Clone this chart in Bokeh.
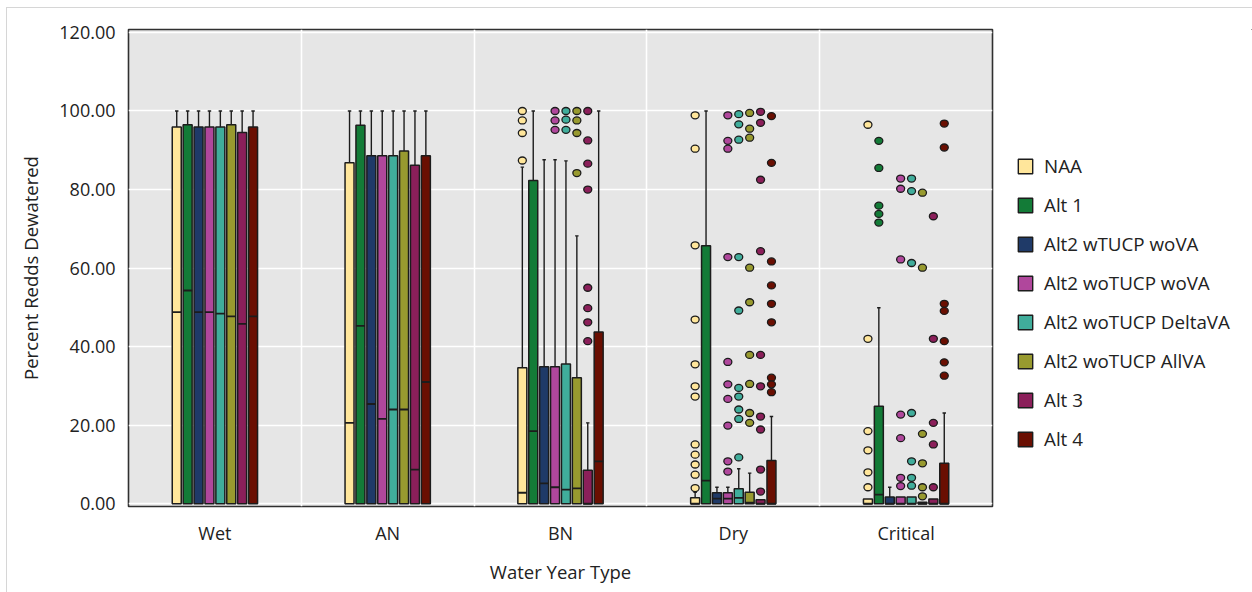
from bokeh.plotting import figure
from bokeh.models import (ColumnDataSource, FactorRange, FixedTicker, NumeralTickFormatter,
                          Legend, LegendItem, Range1d)
from bokeh.transform import dodge
from bokeh.layouts import row, column
from bokeh.embed import file_html
from bokeh.resources import INLINE

# ---- data -------------------------------------------------------------
categories = ["Wet", "AN", "BN", "Dry", "Critical"]
series = ["NAA", "Alt 1", "Alt2 wTUCP woVA", "Alt2 woTUCP woVA",
          "Alt2 woTUCP DeltaVA", "Alt2 woTUCP AllVA", "Alt 3", "Alt 4"]
colors = ["#FFE69B", "#137B37", "#1F3A68", "#B0479C",
          "#40AD9B", "#989A2F", "#8B1F5A", "#6A0F02"]

q1 = {s: [0.0, 0.0, 0.0, 0.0, 0.0] for s in series}
q3 = {
    "NAA":                 [95.9, 86.8, 34.6, 1.5, 1.2],
    "Alt 1":               [96.5, 96.4, 82.3, 65.7, 24.8],
    "Alt2 wTUCP woVA":     [95.9, 88.6, 34.9, 2.8, 1.7],
    "Alt2 woTUCP woVA":    [95.9, 88.6, 34.9, 2.8, 1.7],
    "Alt2 woTUCP DeltaVA": [95.9, 88.6, 35.6, 3.8, 1.7],
    "Alt2 woTUCP AllVA":   [96.5, 89.8, 32.1, 2.9, 0.4],
    "Alt 3":               [94.5, 86.2, 8.5, 1.0, 1.2],
    "Alt 4":               [95.9, 88.6, 43.7, 11.0, 10.3],
}
median = {
    "NAA":                 [48.8, 20.6, 2.8, 0.0, 0.0],
    "Alt 1":               [54.3, 45.3, 18.5, 5.9, 2.3],
    "Alt2 wTUCP woVA":     [48.8, 25.4, 5.2, 1.3, 0.0],
    "Alt2 woTUCP woVA":    [48.8, 21.6, 4.2, 1.3, 0.0],
    "Alt2 woTUCP DeltaVA": [48.4, 24.0, 3.6, 1.5, 0.0],
    "Alt2 woTUCP AllVA":   [47.7, 24.0, 3.9, 0.3, 0.0],
    "Alt 3":               [45.8, 8.7, 0.0, 0.0, 0.0],
    "Alt 4":               [47.7, 31.0, 10.8, 0.0, 0.0],
}
upper = {
    "NAA":                 [100, 100, 85.7, 2.9, 1.2],
    "Alt 1":               [100, 100, 100, 100, 49.9],
    "Alt2 wTUCP woVA":     [100, 100, 87.6, 4.2, 4.2],
    "Alt2 woTUCP woVA":    [100, 100, 87.6, 4.2, 1.7],
    "Alt2 woTUCP DeltaVA": [100, 100, 87.3, 8.9, 1.7],
    "Alt2 woTUCP AllVA":   [100, 100, 68.2, 7.8, 0.4],
    "Alt 3":               [100, 100, 20.6, 1.0, 1.2],
    "Alt 4":               [100, 100, 100, 22.2, 23.1],
}
outliers = {
    "NAA": {"BN": [100, 97.6, 94.4, 87.4],
            "Dry": [98.9, 90.4, 65.8, 46.9, 35.5, 29.9, 27.3, 15.1, 12.5, 10.0, 7.4, 4.0],
            "Critical": [96.5, 42.0, 18.5, 13.6, 8.0, 4.2]},
    "Alt 1": {"Critical": [92.4, 85.5, 75.9, 73.8, 71.6]},
    "Alt2 wTUCP woVA": {},
    "Alt2 woTUCP woVA": {"BN": [100, 97.6, 95.2],
                         "Dry": [98.9, 92.4, 90.4, 62.8, 36.1, 30.4, 26.7, 19.9, 10.8, 8.2],
                         "Critical": [82.8, 80.2, 62.2, 22.7, 16.7, 6.6, 4.5]},
    "Alt2 woTUCP DeltaVA": {"BN": [100, 97.8, 95.2],
                            "Dry": [99.2, 96.6, 92.7, 62.8, 49.2, 29.5, 27.3, 24.0, 21.6, 11.8],
                            "Critical": [82.8, 79.6, 61.3, 23.1, 10.8, 6.6, 4.6]},
    "Alt2 woTUCP AllVA": {"BN": [100, 97.6, 94.4, 84.2],
                          "Dry": [99.5, 95.5, 93.2, 60.1, 51.3, 37.9, 30.5, 23.1, 20.6],
                          "Critical": [79.2, 60.1, 17.8, 10.3, 4.2, 1.9]},
    "Alt 3": {"BN": [100, 92.5, 86.6, 80.0, 55.0, 49.8, 46.2, 41.4],
              "Dry": [99.8, 97.0, 82.5, 64.3, 37.9, 29.9, 22.2, 18.9, 8.7, 3.1],
              "Critical": [73.2, 42.0, 20.6, 15.1, 4.2]},
    "Alt 4": {"Dry": [98.7, 86.8, 61.7, 55.6, 50.9, 46.2, 32.1, 30.4, 28.4],
              "Critical": [96.8, 90.7, 50.9, 49.1, 41.4, 36.0, 32.6]},
}
y_ticks = [0, 20, 40, 60, 80, 100, 120]

# ---- figure -----------------------------------------------------------
FONT = "Open Sans"
TXT = "#222222"
H = 584
W_PLOT, W_KEY = 990, 255

p = figure(width=W_PLOT, height=H, x_range=FactorRange(*categories, range_padding=0),
           y_range=Range1d(-0.7, 120.75), output_backend="svg", toolbar_location=None,
           min_border_left=121, min_border_right=5, min_border_top=21, min_border_bottom=86)

p.background_fill_color = "#E6E6E6"
p.border_fill_color = "white"
p.outline_line_color = "#303030"
p.outline_line_width = 1.6

p.ygrid.ticker = FixedTicker(ticks=y_ticks)
p.ygrid.grid_line_color = "white"
p.ygrid.grid_line_width = 1.6
p.xgrid.ticker = FixedTicker(ticks=[1, 2, 3, 4])
p.xgrid.grid_line_color = "white"
p.xgrid.grid_line_width = 1.6

p.yaxis.ticker = FixedTicker(ticks=y_ticks)
p.yaxis.formatter = NumeralTickFormatter(format="0.00")
for ax in (p.xaxis[0], p.yaxis[0]):
    ax.axis_line_color = None
    ax.major_tick_line_color = None
    ax.minor_tick_line_color = None
    ax.major_tick_out = 0
    ax.major_tick_in = 0
    ax.major_label_text_font = FONT
    ax.major_label_text_font_size = "18px"
    ax.major_label_text_color = TXT
    ax.axis_label_text_font = FONT
    ax.axis_label_text_font_size = "18.5px"
    ax.axis_label_text_font_style = "normal"
    ax.axis_label_text_color = TXT
p.yaxis.major_label_standoff = 13
p.yaxis.axis_label = "Percent Redds Dewatered"
p.yaxis.axis_label_standoff = 13
p.xaxis.major_label_standoff = 14
p.xaxis.axis_label = "Water Year Type"
p.xaxis.axis_label_standoff = 11

# ---- boxes ------------------------------------------------------------
PITCH = 0.0631
BOX_W = 0.052
CAP_W = 0.02
EDGE = "#1c1c1c"

for i, (name, col) in enumerate(zip(series, colors)):
    off = (i - 3.5) * PITCH
    src = ColumnDataSource(dict(cat=categories, q1=q1[name], q3=q3[name],
                                med=median[name], hi=upper[name]))
    # whisker above the box
    wh = ColumnDataSource(dict(
        cat=[c for c, t, h in zip(categories, q3[name], upper[name]) if h > t],
        q3=[t for t, h in zip(q3[name], upper[name]) if h > t],
        hi=[h for t, h in zip(q3[name], upper[name]) if h > t]))
    p.segment(x0=dodge("cat", off, range=p.x_range), y0="q3",
              x1=dodge("cat", off, range=p.x_range), y1="hi",
              source=wh, line_color=EDGE, line_width=1.4)
    p.segment(x0=dodge("cat", off - CAP_W / 2, range=p.x_range), y0="hi",
              x1=dodge("cat", off + CAP_W / 2, range=p.x_range), y1="hi",
              source=wh, line_color=EDGE, line_width=1.4)
    p.vbar(x=dodge("cat", off, range=p.x_range), width=BOX_W, bottom="q1", top="q3",
           source=src, fill_color=col, line_color=EDGE, line_width=1.5)
    p.segment(x0=dodge("cat", off - BOX_W / 2, range=p.x_range), y0="med",
              x1=dodge("cat", off + BOX_W / 2, range=p.x_range), y1="med",
              source=src, line_color=EDGE, line_width=1.8)
    # outlying years
    ox, oy = [], []
    for c, vals in outliers[name].items():
        ox += [c] * len(vals)
        oy += vals
    osrc = ColumnDataSource(dict(cat=ox, y=oy))
    p.ellipse(x=dodge("cat", off, range=p.x_range), y="y", width=8, height=7,
              width_units="screen", height_units="screen", source=osrc,
              fill_color=col, line_color=EDGE, line_width=1.3)

# ---- key panel beside the plot ----------------------------------------
key = figure(width=W_KEY, height=H, x_range=Range1d(0, 1), y_range=Range1d(0, 1),
             x_axis_type=None, y_axis_type=None, output_backend="svg", toolbar_location=None,
             min_border=0)
key.grid.visible = False
key.outline_line_color = None
key.background_fill_color = "white"

items = []
for name, col in zip(series, colors):
    # swatch glyph kept outside the key's visible range; only its legend entry shows
    swatch = key.vbar(x=[5], top=[6], bottom=[5], width=0.1,
                      fill_color=col, line_color=EDGE, line_width=1.4)
    items.append(LegendItem(label=name, renderers=[swatch]))

legend = Legend(items=items, location=(19, 54), orientation="vertical",
                glyph_width=18, glyph_height=18, label_height=25, spacing=13,
                label_standoff=10, padding=0, margin=0,
                border_line_color=None, background_fill_alpha=0,
                label_text_font=FONT, label_text_font_size="18.8px", label_text_color=TXT)
key.add_layout(legend, "center")

page = column(row(p, key), styles={"margin-left": "6px", "margin-top": "7px",
                                   "border-left": "1px solid #d6d6d6",
                                   "border-top": "1px solid #d6d6d6"})

open("out.html", "w").write(file_html(page, INLINE))
